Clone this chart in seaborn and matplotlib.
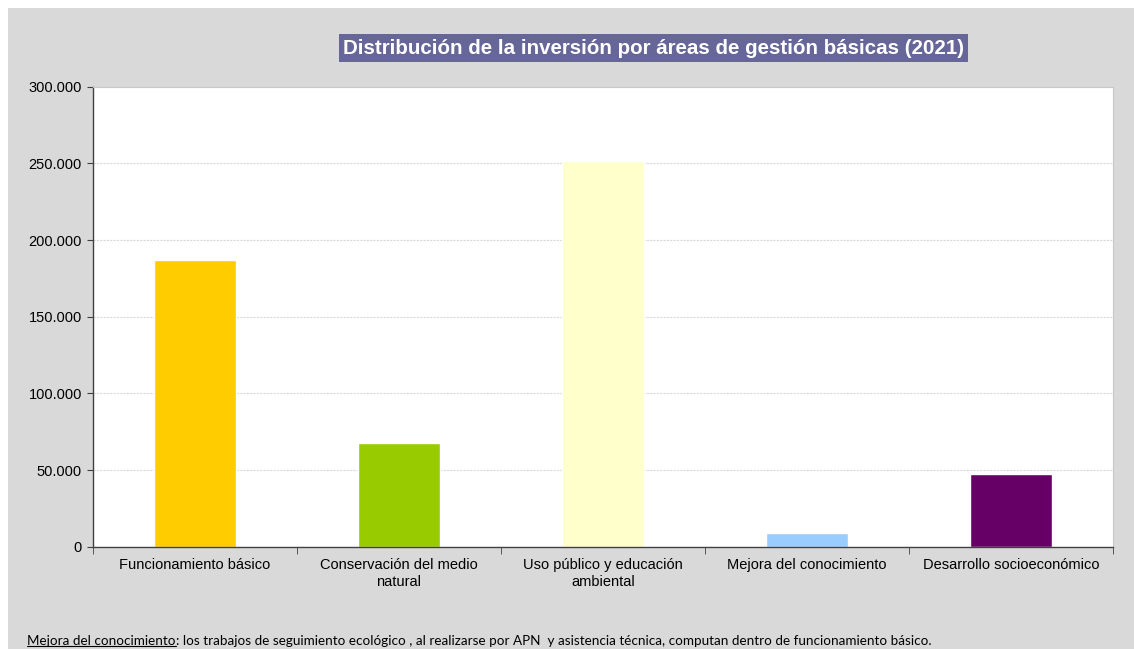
import numpy as np
import pandas as pd
from matplotlib import pyplot as plt
from matplotlib.patches import Rectangle
from matplotlib.ticker import FuncFormatter
import seaborn as sns

# Datos (inversión en euros, 2021)
categorias = ['Funcionamiento básico',
              'Conservación del medio\nnatural',
              'Uso público y educación\nambiental',
              'Mejora del conocimiento',
              'Desarrollo socioeconómico']
inversion = [186900, 67800, 251400, 9100, 47200]
colores = ['#FFCC00', '#99CC00', '#FFFFCC', '#99CCFF', '#660066']
y_ticks = [0, 50000, 100000, 150000, 200000, 250000, 300000]

titulo = 'Distribución de la inversión por áreas de gestión básicas (2021)'
nota_sub = 'Mejora del conocimiento'
nota_txt = (': los trabajos de seguimiento ecológico , al realizarse por APN  '
            'y asistencia técnica, computan dentro de funcionamiento básico.')

sns.set_style('white')
plt.rcParams['font.family'] = ['Liberation Sans', 'DejaVu Sans']

df = pd.DataFrame({'area': categorias, 'valor': inversion})

fig = plt.figure(figsize=(11.34, 6.49), dpi=100, facecolor='white')
# fondo gris del gráfico
fig.patches.append(Rectangle((8 / 1134, 0), 1 - 8 / 1134, 1 - 7.5 / 649,
                             transform=fig.transFigure, facecolor='#D9D9D9',
                             edgecolor='none', zorder=-10))

ax = fig.add_axes([93 / 1134, (649 - 546.7) / 649, (1113 - 93) / 1134, (546.7 - 86.7) / 649])
ax.set_facecolor('white')
ax.set_zorder(1)

sns.barplot(data=df, x='area', y='valor', hue='area', palette=colores,
            width=0.4, legend=False, saturation=1, ax=ax)

ax.set_xlim(-0.5, len(categorias) - 0.5)
ax.set_ylim(0, 300000)
ax.set_yticks(y_ticks)
ax.yaxis.set_major_formatter(FuncFormatter(lambda v, p: '{:,.0f}'.format(v).replace(',', '.')))
ax.set_xlabel('')
ax.set_ylabel('')

ax.set_axisbelow(True)
ax.yaxis.grid(True, color='#D9D9D9', linestyle=(0, (2, 1)), linewidth=0.8)

for s in ['left', 'bottom']:
    ax.spines[s].set_color('#404040')
    ax.spines[s].set_linewidth(1)
for s in ['top', 'right']:
    ax.spines[s].set_color('#C8C8C8')
    ax.spines[s].set_linewidth(0.8)

ax.tick_params(axis='y', labelsize=10.5, labelcolor='black', length=4, color='#404040',
               direction='out', left=True, pad=4)
ax.set_xticks(np.arange(-0.5, len(categorias), 1), minor=True)
ax.tick_params(axis='x', which='major', length=0, labelsize=10.5, labelcolor='black', pad=8)
ax.tick_params(axis='x', which='minor', length=5, color='#404040', direction='out', bottom=True)
for lab in ax.get_xticklabels():
    lab.set_linespacing(1.3)

fig.text(0.5765, 1 - 48 / 649, titulo, ha='center', va='center', fontsize=14.8,
         fontweight='bold', color='white', zorder=5,
         bbox=dict(boxstyle='square,pad=0.2', facecolor='#666699', edgecolor='none'))

# nota al pie con la primera parte subrayada
r = fig.canvas.get_renderer()
t1 = fig.text(27 / 1134, 1 - 641 / 649, nota_sub, ha='left', va='center',
              fontsize=9.75, color='black', family=['Lato', 'DejaVu Sans'])
bb = t1.get_window_extent(renderer=r).transformed(fig.transFigure.inverted())
fig.lines.append(plt.Line2D([bb.x0, bb.x1], [bb.y0 + 0.002, bb.y0 + 0.002],
                            transform=fig.transFigure, color='black', linewidth=0.8))
fig.text(bb.x1, 1 - 641 / 649, nota_txt, ha='left', va='center',
         fontsize=9.75, color='black', family=['Lato', 'DejaVu Sans'])

fig.savefig('out.png', dpi=100)
